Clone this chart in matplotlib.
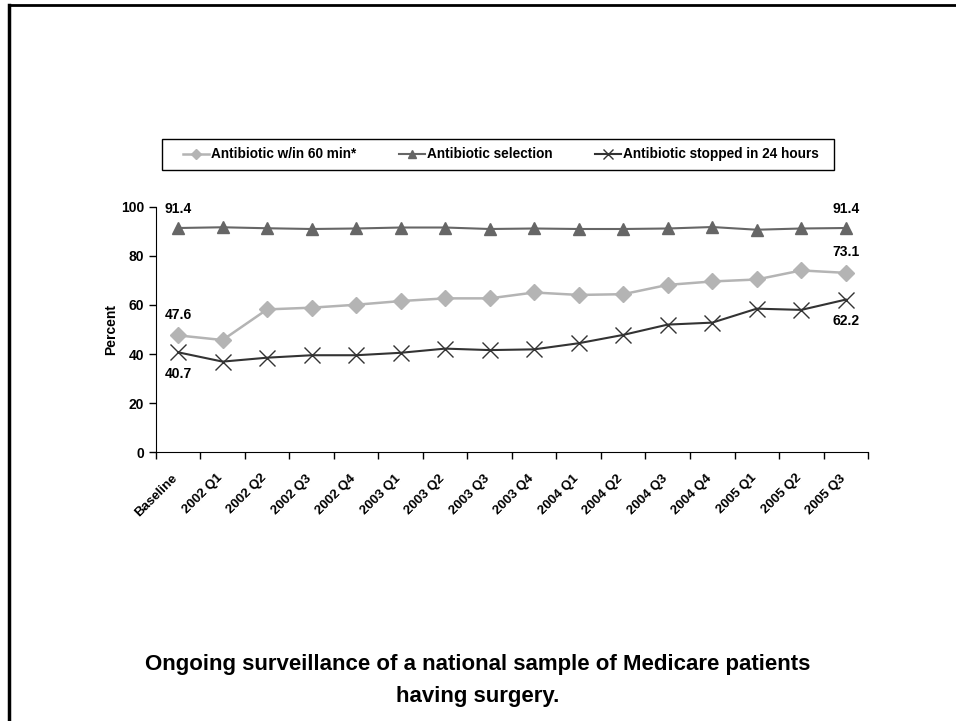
import matplotlib.pyplot as plt
from matplotlib.lines import Line2D
from matplotlib.patches import Rectangle

plt.rcParams['font.family'] = ['Liberation Sans', 'DejaVu Sans']
plt.rcParams['font.weight'] = 'bold'

# datos
categorias = ['Baseline', '2002 Q1', '2002 Q2', '2002 Q3', '2002 Q4',
              '2003 Q1', '2003 Q2', '2003 Q3', '2003 Q4', '2004 Q1',
              '2004 Q2', '2004 Q3', '2004 Q4', '2005 Q1', '2005 Q2', '2005 Q3']
antibiotico_60min = [47.6, 45.7, 58.2, 58.9, 60.1, 61.6, 62.7, 62.7,
                     65.1, 64.1, 64.4, 68.2, 69.6, 70.4, 74.1, 73.1]
seleccion = [91.4, 91.7, 91.3, 91.0, 91.2, 91.6, 91.6, 91.0,
             91.2, 91.0, 91.0, 91.2, 91.8, 90.7, 91.2, 91.4]
suspendido_24h = [40.7, 36.9, 38.5, 39.5, 39.5, 40.5, 42.2, 41.6,
                  41.9, 44.4, 47.8, 52.0, 52.8, 58.5, 58.0, 62.2]
nombres = ['Antibiotic w/in 60 min*', 'Antibiotic selection',
           'Antibiotic stopped in 24 hours']
titulo = 'Ongoing surveillance of a national sample of Medicare patients\nhaving surgery.'

fig = plt.figure(figsize=(9.56, 7.21), dpi=100)
ax = fig.add_axes([0.163, 0.373, 0.745, 0.34])

x = range(len(categorias))
ax.plot(x, antibiotico_60min, color='#b4b4b4', lw=1.8, marker='D', ms=8,
        label=nombres[0])
ax.plot(x, seleccion, color='#666666', lw=1.5, marker='^', ms=9,
        label=nombres[1])
ax.plot(x, suspendido_24h, color='#333333', lw=1.5, marker='x', ms=11,
        mew=1.0, label=nombres[2])

ax.set_xlim(-0.5, len(categorias) - 0.5)
ax.set_ylim(0, 100)
ax.set_yticks([0, 20, 40, 60, 80, 100])
ax.set_xticks(x)
ax.set_xticklabels(categorias, rotation=45, ha='right', va='baseline',
                   rotation_mode='anchor', fontsize=9.5, fontweight='bold')
ax.set_xticks([i - 0.5 for i in range(len(categorias) + 1)], minor=True)
ax.tick_params(axis='x', which='major', length=0, pad=19)
ax.tick_params(axis='x', which='minor', length=5, direction='out', width=1)
ax.tick_params(axis='y', length=5, direction='out', labelsize=10, width=1)
for lbl in ax.get_yticklabels():
    lbl.set_fontweight('bold')
ax.spines['top'].set_visible(False)
ax.spines['right'].set_visible(False)
ax.set_ylabel('Percent', fontsize=10, fontweight='bold', labelpad=2)

# etiquetas de los extremos
ult = len(categorias) - 1
ax.annotate(f'{seleccion[0]}', (0, seleccion[0]), xytext=(0, 11),
            textcoords='offset points', ha='center', fontsize=10, fontweight='bold')
ax.annotate(f'{antibiotico_60min[0]}', (0, antibiotico_60min[0]), xytext=(0, 12),
            textcoords='offset points', ha='center', fontsize=10, fontweight='bold')
ax.annotate(f'{suspendido_24h[0]}', (0, suspendido_24h[0]), xytext=(0, -18.5),
            textcoords='offset points', ha='center', fontsize=10, fontweight='bold')
ax.annotate(f'{seleccion[ult]}', (ult, seleccion[ult]), xytext=(0, 11),
            textcoords='offset points', ha='center', fontsize=10, fontweight='bold')
ax.annotate(f'{antibiotico_60min[ult]}', (ult, antibiotico_60min[ult]), xytext=(0, 12),
            textcoords='offset points', ha='center', fontsize=10, fontweight='bold')
ax.annotate(f'{suspendido_24h[ult]}', (ult, suspendido_24h[ult]), xytext=(0, -18.5),
            textcoords='offset points', ha='center', fontsize=10, fontweight='bold')

# leyenda con marco dibujado aparte
leg = fig.legend(loc='center left', bbox_to_anchor=(0.1914, 0.786), ncol=3,
                 fontsize=9.8, frameon=False, borderpad=0, borderaxespad=0,
                 columnspacing=3.15, handlelength=1.9, handletextpad=0.15,
                 markerscale=0.7)
for t in leg.get_texts():
    t.set_fontweight('bold')
fig.add_artist(Rectangle((0.1695, 0.764), 0.703, 0.043, fill=False,
                         edgecolor='black', lw=1.0, transform=fig.transFigure))

lineas = titulo.split('\n')
fig.text(0.5, 0.0777, lineas[0], ha='center', va='center', fontsize=16,
         fontweight='bold')
fig.text(0.5, 0.0333, lineas[1], ha='center', va='center', fontsize=16,
         fontweight='bold')

# marco de la diapositiva
fig.add_artist(Line2D([0.0094, 0.0094], [0, 0.993], color='black', lw=2.5,
                      transform=fig.transFigure))
fig.add_artist(Line2D([0.0094, 1.0], [0.993, 0.993], color='black', lw=2,
                      transform=fig.transFigure))

fig.savefig('out.png', dpi=100)
